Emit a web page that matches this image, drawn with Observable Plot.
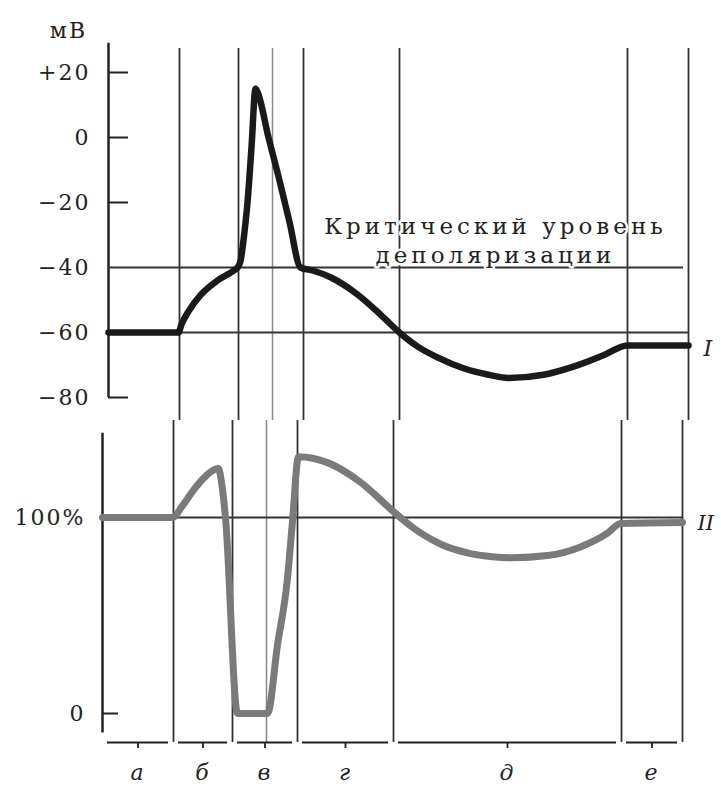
<!DOCTYPE html>
<html><head><meta charset="utf-8">
<script src="https://cdn.jsdelivr.net/npm/d3@7"></script>
<script src="https://cdn.jsdelivr.net/npm/@observablehq/plot@0.6"></script>
<style>
body{margin:0;background:#fff;}
#chart{position:relative;width:721px;height:794px;overflow:hidden;background:#fff;}
#chart svg{position:absolute;left:0;max-width:none;}
#chart svg text{letter-spacing:2px;}
</style></head><body><div id="chart"></div>
<script>
// time axis: arbitrary units; phase boundaries а, б, в, г, д, е
const phaseBounds = [0, 71, 130, 195, 291, 519, 580];
const phaseLabels = ["а", "б", "в", "г", "д", "е"];
const extraLine = [164];

// Curve I: membrane potential (мВ)
const potT = [0, 70, 73, 80, 92, 109, 125, 129, 132, 136, 139, 143, 147, 149, 160, 170, 181, 192, 205, 222, 249, 272, 292, 310, 330, 355, 380, 400, 435, 465, 495, 519, 580];
const potV = [-60, -60, -57.5, -53.5, -48.5, -44, -41, -40, -38, -29, -20, -3, 15, 14, 0, -12, -26, -40, -41, -43, -48.3, -54.5, -60.3, -64.5, -67.8, -71, -73, -74, -73, -70.5, -67, -64, -64];

// Curve II: excitability (%)
const excT = [0, 70, 80, 91, 103, 112, 116, 119, 123, 135, 165, 175, 185, 190, 196, 225, 258, 291, 305, 320, 340, 365, 390, 410, 445, 478, 505, 518, 580];
const excV = [100, 100, 106, 114, 121, 124.5, 125, 118, 100, 0, 0, 35, 69, 98, 131, 128, 118, 103, 97, 91.5, 86, 82, 80, 79.5, 80.6, 85, 92, 97, 97.5];

const mvTicks = [20, 0, -20, -40, -60, -80];
const mvTickLabels = ["+20", "0", "−20", "−40", "−60", "−80"];
const pctTicks = [0, 100];
const pctTickLabels = ["0", "100%"];
const criticalLevel = -40;
const restingLevel = -60;
const baseExc = 100;
const critText = ["Критический уровень", "деполяризации"];
const curveNames = ["I", "II"];
const unitLabel = "мВ";

const pot = potT.map((t, i) => ({t, v: potV[i]}));
const exc = excT.map((t, i) => ({t, v: excV[i]}));
const phases = phaseLabels.map((l, i) => ({label: l, start: phaseBounds[i], end: phaseBounds[i + 1], mid: (phaseBounds[i] + phaseBounds[i + 1]) / 2}));
const tmax = phaseBounds[phaseBounds.length - 1];

const font = {fontFamily: "DejaVu Serif", fontSize: "22px", color: "#222", background: "white", overflow: "visible"};
const lineC = "#333";

const topPlot = Plot.plot({
  width: 721, height: 420,
  marginLeft: 108, marginRight: 33, marginTop: 48, marginBottom: 0,
  x: {domain: [0, tmax], axis: null},
  y: {domain: [-80, 20], range: [397, 72]},
  style: font,
  marks: [
    Plot.ruleX(phaseBounds.slice(1), {stroke: lineC, strokeWidth: 1.8}),
    Plot.ruleX(extraLine, {stroke: "#888", strokeWidth: 1.5}),
    Plot.ruleX([0], {y1: -80, y2: 29, stroke: "#222", strokeWidth: 2.5}),
    Plot.ruleY([criticalLevel], {x1: 0, x2: tmax - 5, stroke: lineC, strokeWidth: 1.8}),
    Plot.ruleY([restingLevel], {x1: 0, x2: tmax, stroke: lineC, strokeWidth: 1.8}),
    Plot.ruleY(mvTicks.filter(d => d !== criticalLevel && d !== restingLevel), {x1: 0, x2: 20, stroke: "#222", strokeWidth: 2}),
    Plot.line(pot, {x: "t", y: "v", stroke: "#1a1a1a", strokeWidth: 6.5, curve: "monotone-x", strokeLinejoin: "round"}),
    Plot.axisY({ticks: mvTicks, tickFormat: d => mvTickLabels[mvTicks.indexOf(d)], tickSize: 0, tickPadding: 18, fontSize: 22, label: null}),
    Plot.text([critText.join("\n")], {x: 387, y: -31.4, lineHeight: 1.25, fontSize: 23, textAnchor: "middle", fill: "#222", stroke: "white", strokeWidth: 5}),
    Plot.text([unitLabel], {frameAnchor: "top-left", dx: -40, dy: -26, fontSize: 22, textAnchor: "middle"}),
    Plot.text([curveNames[0]], {x: tmax + 15, y: -65, textAnchor: "start", fontStyle: "italic", fontSize: 22})
  ]
});
topPlot.style.top = "0px";

const bottomPlot = Plot.plot({
  width: 721, height: 374,
  marginLeft: 102, marginRight: 39, marginTop: 0, marginBottom: 52,
  x: {domain: [0, tmax], label: null},
  y: {domain: [-14.8, 149.5], label: null},
  style: font,
  marks: [
    Plot.ruleX(phaseBounds.slice(1), {stroke: lineC, strokeWidth: 1.8}),
    Plot.ruleX(extraLine, {stroke: "#888", strokeWidth: 1.5}),
    Plot.ruleX([0], {y1: -10, y2: 143, stroke: "#222", strokeWidth: 2.5}),
    Plot.ruleY([baseExc], {x1: 0, x2: tmax, stroke: lineC, strokeWidth: 1.8}),
    Plot.ruleY([0], {x1: 0, x2: 16, stroke: "#222", strokeWidth: 2}),
    Plot.line(exc, {x: "t", y: "v", stroke: "#7a7a7a", strokeWidth: 7, curve: "monotone-x", strokeLinejoin: "round"}),
    Plot.axisY({ticks: pctTicks, tickFormat: d => pctTickLabels[pctTicks.indexOf(d)], tickSize: 0, tickPadding: 17, fontSize: 22, label: null}),
    Plot.ruleY(phases, {y: -14.8, x1: "start", x2: "end", insetLeft: 5, insetRight: 5, stroke: "#222", strokeWidth: 1.8}),
    Plot.axisX({ticks: phases.map(d => d.mid), tickFormat: d => phases.find(p => p.mid === d).label, tickSize: 6, tickPadding: 16, fontSize: 22, fontStyle: "italic", strokeWidth: 1.8, label: null}),
    Plot.text([curveNames[1]], {x: tmax + 15, y: 97, textAnchor: "start", fontStyle: "italic", fontSize: 21})
  ]
});
bottomPlot.style.top = "420px";

const chart = document.getElementById("chart");
chart.append(topPlot, bottomPlot);
d3.select(topPlot).selectAll("text").filter(function() { return this.textContent.includes("Крит"); }).style("letter-spacing", "4px");
d3.selectAll("#chart svg text").filter(function() { return this.textContent === "I" || this.textContent === "II"; }).style("letter-spacing", "0px");
</script></body></html>
